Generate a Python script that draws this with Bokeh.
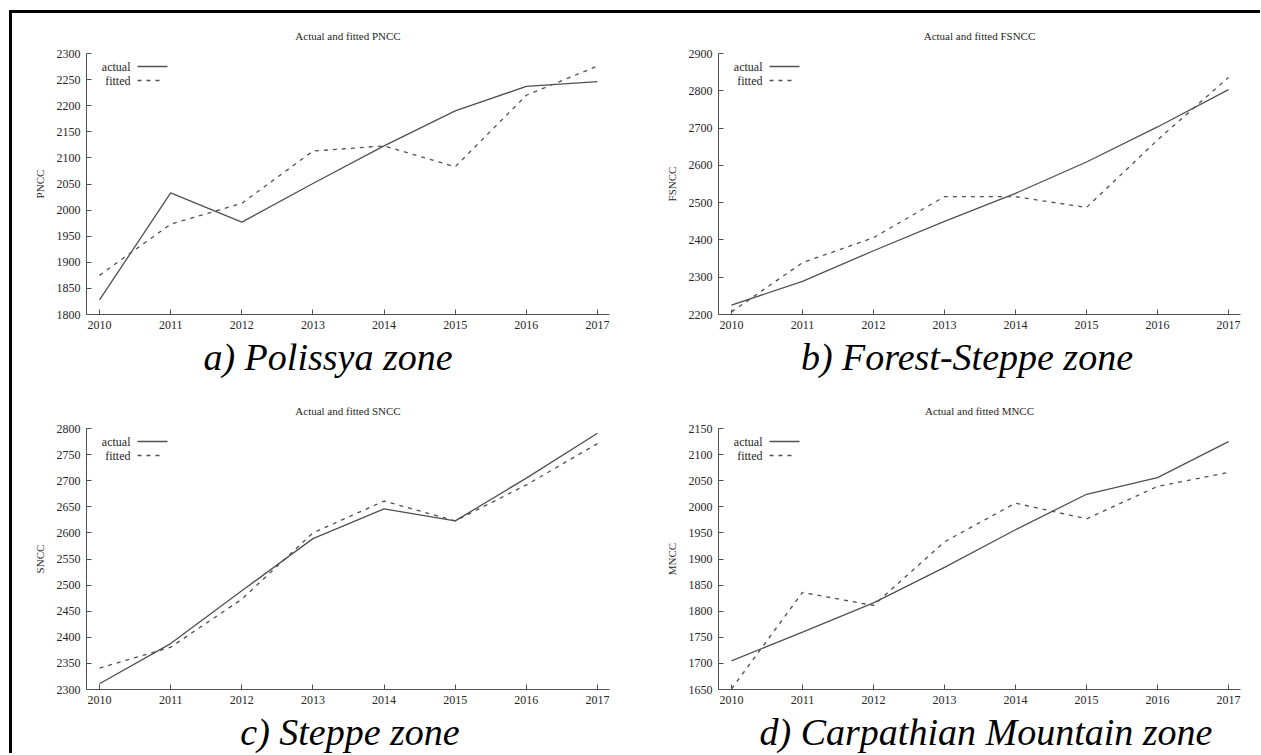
from bokeh.plotting import figure
from bokeh.layouts import column, row
from bokeh.models import Range1d, FixedTicker, Label, Arrow, Div, Spacer
from bokeh.embed import file_html
from bokeh.resources import INLINE

years = [2010, 2011, 2012, 2013, 2014, 2015, 2016, 2017]

pncc_actual = [1828, 2033, 1977, 2051, 2123, 2190, 2237, 2246]
pncc_fitted = [1875, 1973, 2013, 2113, 2123, 2083, 2220, 2276]
fsncc_actual = [2225, 2289, 2371, 2450, 2525, 2609, 2703, 2803]
fsncc_fitted = [2207, 2339, 2406, 2516, 2516, 2487, 2668, 2836]
sncc_actual = [2311, 2388, 2489, 2589, 2646, 2623, 2705, 2791]
sncc_fitted = [2341, 2381, 2473, 2600, 2661, 2623, 2692, 2771]
mncc_actual = [1705, 1760, 1816, 1884, 1956, 2024, 2056, 2125]
mncc_fitted = [1651, 1836, 1811, 1933, 2007, 1977, 2039, 2066]

pncc_ticks = [1800, 1850, 1900, 1950, 2000, 2050, 2100, 2150, 2200, 2250, 2300]
fsncc_ticks = [2200, 2300, 2400, 2500, 2600, 2700, 2800, 2900]
sncc_ticks = [2300, 2350, 2400, 2450, 2500, 2550, 2600, 2650, 2700, 2750, 2800]
mncc_ticks = [1650, 1700, 1750, 1800, 1850, 1900, 1950, 2000, 2050, 2100, 2150]

captions = ["a) Polissya zone", "b) Forest-Steppe zone", "c) Steppe zone", "d) Carpathian Mountain zone"]

SERIF = "Liberation Serif"
LINE = "#505050"
TXT = "#262626"

LW, RW = 626, 622          # left / right column widths
FH = 323                    # figure height


def panel(name, actual, fitted, yticks, width, bl, br):
    p = figure(width=width, height=FH, output_backend="svg", toolbar_location=None,
               x_range=Range1d(2009.817, 2017.169),
               y_range=Range1d(yticks[0], yticks[-1]),
               min_border_left=bl, min_border_right=br, min_border_top=40, min_border_bottom=22)
    p.outline_line_color = None
    p.grid.visible = False
    p.title.text = "Actual and fitted " + name
    p.title.align = "center"
    p.title.text_font = SERIF
    p.title.text_font_size = "11px"
    p.title.text_font_style = "normal"
    p.title.text_color = TXT
    p.title.standoff = 24

    for ax in (p.xaxis[0], p.yaxis[0]):
        ax.axis_line_color = LINE
        ax.major_tick_line_color = LINE
        ax.major_tick_in = 5
        ax.major_tick_out = 0
        ax.minor_tick_line_color = None
        ax.major_label_text_font = SERIF
        ax.major_label_text_font_size = "12px"
        ax.major_label_text_color = TXT
        ax.major_label_standoff = 6
    p.xaxis.ticker = FixedTicker(ticks=years)
    p.yaxis.ticker = FixedTicker(ticks=yticks)
    p.yaxis.axis_label = name
    p.yaxis.axis_label_text_font = SERIF
    p.yaxis.axis_label_text_font_size = "11px"
    p.yaxis.axis_label_text_font_style = "normal"
    p.yaxis.axis_label_text_color = TXT
    p.yaxis.axis_label_standoff = 8

    p.line(years, actual, line_color=LINE, line_width=1.3)
    p.line(years, fitted, line_color=LINE, line_width=1.3, line_dash="4 5")

    # gnuplot-style key (text left of the line sample)
    for i, (lbl, dash, x_end) in enumerate([("actual", "solid", 81), ("fitted", "4 5", 77)]):
        yy = 248 - 14 * i
        p.add_layout(Label(x=44, y=yy, x_units="screen", y_units="screen", text=lbl,
                           text_align="right", text_baseline="middle",
                           text_font=SERIF, text_font_size="12px", text_color=TXT))
        p.add_layout(Arrow(end=None, x_start=51, y_start=yy, x_end=x_end, y_end=yy,
                           start_units="screen", end_units="screen",
                           line_color=LINE, line_width=1.3, line_dash=dash))
    return p


def caption(text, width, height, pad_top, shift):
    html = ('<div style="width:%dpx;text-align:center;font-family:\'Liberation Serif\';'
            'font-style:italic;font-size:38px;line-height:42px;color:#000;white-space:nowrap;'
            'padding-top:%dpx;position:relative;left:%dpx;">%s</div>' % (width, pad_top, shift, text))
    return Div(text=html, width=width, height=height, margin=0, styles={"overflow": "hidden"})


pa = panel("PNCC", pncc_actual, pncc_fitted, pncc_ticks, LW, 74, 29)
pb = panel("FSNCC", fsncc_actual, fsncc_fitted, fsncc_ticks, RW, 80, 20)
pc = panel("SNCC", sncc_actual, sncc_fitted, sncc_ticks, LW, 74, 29)
pd = panel("MNCC", mncc_actual, mncc_fitted, mncc_ticks, RW, 80, 20)

ca = caption(captions[0], LW, 52, 0, 3)
cb = caption(captions[1], RW, 52, 0, 18)
cc = caption(captions[2], LW, 42, 0, 25)
cd = caption(captions[3], RW, 42, 0, 37)

content = column(row(pa, pb), row(ca, cb), row(pc, pd), row(cc, cd))
top_bar = Spacer(width=LW + RW, height=3, margin=0, styles={"background-color": "#000000"})
left_bar = Spacer(width=3, height=3 + 2 * FH + 52 + 42, margin=0, styles={"background-color": "#000000"})

inner = column(top_bar, content, styles={"overflow": "hidden"})
layout = row(left_bar, inner, margin=(10, 0, 0, 9), styles={"overflow": "hidden"})

open("out.html", "w").write(file_html(layout, INLINE))
